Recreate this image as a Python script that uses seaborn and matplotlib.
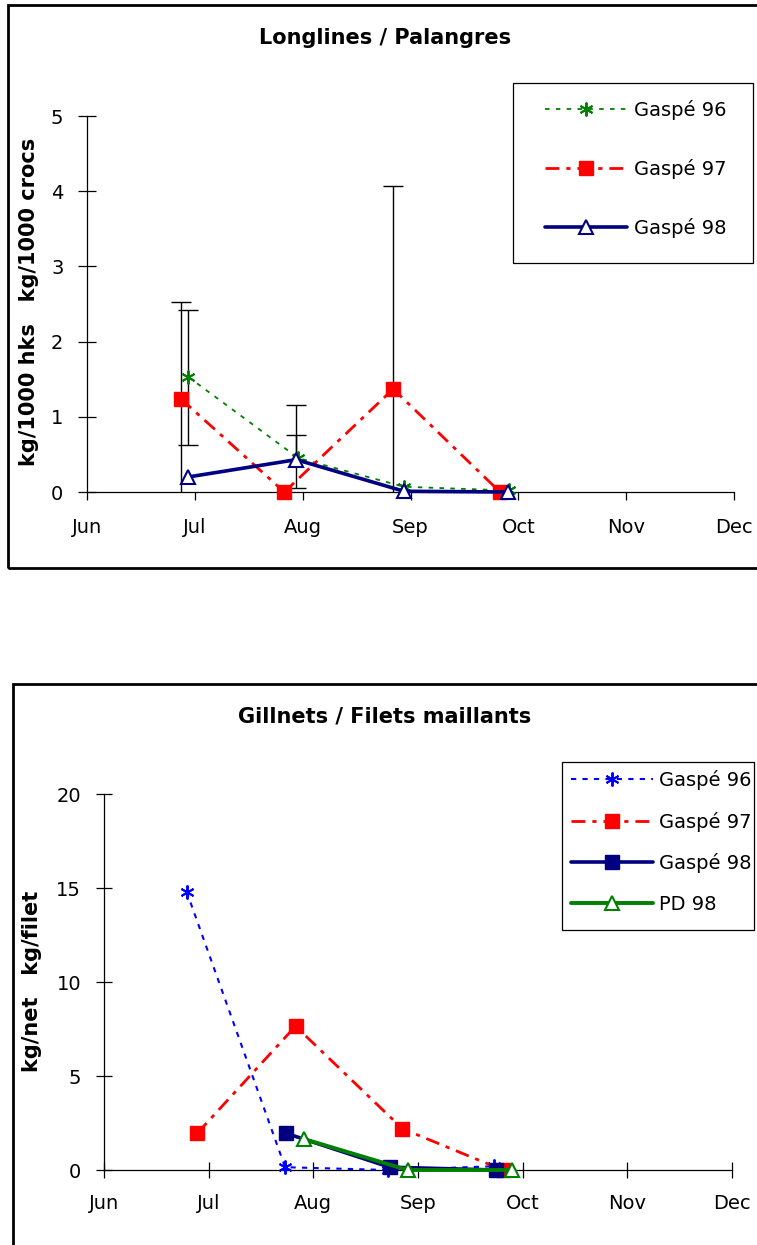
import numpy as np
import matplotlib
matplotlib.use("Agg")
import matplotlib.pyplot as plt
import seaborn as sns
from matplotlib.patches import Rectangle

# month axis: 0 = Jun ... 6 = Dec
months = ["Jun", "Jul", "Aug", "Sep", "Oct", "Nov", "Dec"]

# Longlines / Palangres
ll_x96 = [0.94, 1.96, 2.94, 3.91]
ll_y96 = [1.53, 0.45, 0.07, 0.02]
ll_x97 = [0.87, 1.83, 2.84, 3.83]
ll_y97 = [1.24, 0.00, 1.37, 0.00]
ll_x98 = [0.94, 1.94, 2.94, 3.90]
ll_y98 = [0.20, 0.43, 0.01, 0.00]

# error bars (low / high ends)
err_x = [0.87, 0.94, 1.94, 1.94, 2.84]
err_lo = [-0.03, 0.62, 0.05, 0.43, -1.33]
err_hi = [2.52, 2.42, 1.16, 0.76, 4.07]

# Gillnets / Filets maillants
gn_x96 = [0.79, 1.73, 2.71, 3.73]
gn_y96 = [14.8, 0.15, 0.00, 0.20]
gn_x97 = [0.89, 1.83, 2.85, 3.81]
gn_y97 = [1.95, 7.65, 2.20, 0.00]
gn_x98 = [1.74, 2.73, 3.75]
gn_y98 = [1.95, 0.15, 0.00]
pd_x98 = [1.91, 2.90, 3.90]
pd_y98 = [1.65, 0.00, 0.00]

sns.set_style("white")
plt.rcParams['font.family'] = ['DejaVu Sans']
plt.rcParams['text.color'] = 'black'
plt.rcParams['xtick.color'] = 'black'
plt.rcParams['ytick.color'] = 'black'

W, H = 757, 1245
fig = plt.figure(figsize=(W / 100, H / 100), dpi=100)


def frame(x0, y0, x1, y1, lw):
    fig.patches.append(Rectangle((x0 / W, 1 - y1 / H), (x1 - x0) / W, (y1 - y0) / H,
                                 transform=fig.transFigure, fill=False,
                                 edgecolor="black", lw=lw, zorder=0))


# outer chart boxes and legend boxes
frame(8, 5, 800, 568, 2.0)
frame(13, 684, 800, 1300, 2.0)
frame(513, 83, 753, 263, 0.9)
frame(562, 762, 754, 930, 0.9)


def style_axis(ax, ymax, ystep, xdir, xlen, xpad, ylen, ypad):
    sns.despine(ax=ax)
    for s in ["left", "bottom"]:
        ax.spines[s].set_color("black")
        ax.spines[s].set_linewidth(0.9)
    ax.set_xlim(0, 6)
    ax.set_ylim(0, ymax)
    ax.set_xticks(range(7))
    ax.set_xticklabels(months)
    ax.set_yticks(np.arange(0, ymax + 0.1, ystep))
    ax.tick_params(axis="x", bottom=True, direction=xdir, length=xlen, width=0.9,
                   pad=xpad, labelsize=14, colors="black")
    ax.tick_params(axis="y", left=True, direction="inout", length=ylen, width=0.9,
                   pad=ypad, labelsize=14, colors="black")
    ax.set_xlabel("")
    ax.set_ylabel("")
    ax.set_facecolor("none")


def series(ax, xs, ys, color, lw, ls, marker, ms, mfc, mec, mew, label, z):
    sns.lineplot(x=xs, y=ys, ax=ax, color=color, lw=lw, linestyle=ls,
                 marker=marker, ms=ms, mfc=mfc, mec=mec, mew=mew,
                 label=label, sort=False, errorbar=None, clip_on=False, zorder=z)


# ---- top chart ----
ax1 = fig.add_axes([87 / W, 1 - 492 / H, (734 - 87) / W, (492 - 116) / H])
lo = np.array(err_lo)
hi = np.array(err_hi)
ax1.errorbar(err_x, (lo + hi) / 2, yerr=(hi - lo) / 2, fmt="none",
             ecolor="black", elinewidth=1.0, capsize=7, capthick=1.0, zorder=2)
series(ax1, ll_x96, ll_y96, "#008000", 1.3, (0, (2.5, 3.5)), (6, 2, 0), 10,
       "#008000", "#008000", 1.4, "Gaspé 96", 3)
series(ax1, ll_x97, ll_y97, "#FF0000", 2.0, (0, (5, 2.5, 1.5, 2.5)), "s", 10,
       "#FF0000", "#FF0000", 1.0, "Gaspé 97", 4)
series(ax1, ll_x98, ll_y98, "#000080", 2.6, "-", "^", 10,
       "white", "#000080", 1.5, "Gaspé 98", 5)
style_axis(ax1, 5, 1, "out", 6, 13, 13, 10.5)
ax1.legend(loc="upper left", bbox_to_anchor=(545 / W, 1 - 100 / H),
           bbox_transform=fig.transFigure, borderaxespad=0, fontsize=14,
           handlelength=4.2, handletextpad=0.4, labelspacing=2.0,
           borderpad=0, frameon=False)

fig.text(385 / W, 1 - 38 / H, "Longlines / Palangres", ha="center", va="center",
         fontsize=15, fontweight="bold")
fig.text(29 / W, 1 - 302 / H, "kg/1000 hks   kg/1000 crocs", ha="center",
         va="center", rotation=90, fontsize=15, fontweight="bold")

# ---- bottom chart ----
ax2 = fig.add_axes([104 / W, 1 - 1170 / H, (732 - 104) / W, (1170 - 794) / H])
series(ax2, gn_x96, gn_y96, "#0000FF", 1.5, (0, (2.5, 3)), (6, 2, 0), 10,
       "#0000FF", "#0000FF", 1.4, "Gaspé 96", 3)
series(ax2, gn_x97, gn_y97, "#FF0000", 2.0, (0, (5, 2.5, 1.5, 2.5)), "s", 10,
       "#FF0000", "#FF0000", 1.0, "Gaspé 97", 4)
series(ax2, gn_x98, gn_y98, "#000080", 2.6, "-", "s", 10,
       "#000080", "#000080", 1.0, "Gaspé 98", 5)
series(ax2, pd_x98, pd_y98, "#008000", 2.8, "-", "^", 10,
       "white", "#008000", 1.5, "PD 98", 6)
style_axis(ax2, 20, 5, "inout", 11, 12, 12, 10.5)
ax2.legend(loc="upper left", bbox_to_anchor=(571 / W, 1 - 770 / H),
           bbox_transform=fig.transFigure, borderaxespad=0, fontsize=14,
           handlelength=4.2, handletextpad=0.35, labelspacing=1.11,
           borderpad=0, frameon=False)

fig.text(385 / W, 1 - 716 / H, "Gillnets / Filets maillants", ha="center",
         va="center", fontsize=15, fontweight="bold")
fig.text(32 / W, 1 - 981 / H, "kg/net   kg/filet", ha="center", va="center",
         rotation=90, fontsize=15, fontweight="bold")

fig.savefig("out.png", dpi=100)
